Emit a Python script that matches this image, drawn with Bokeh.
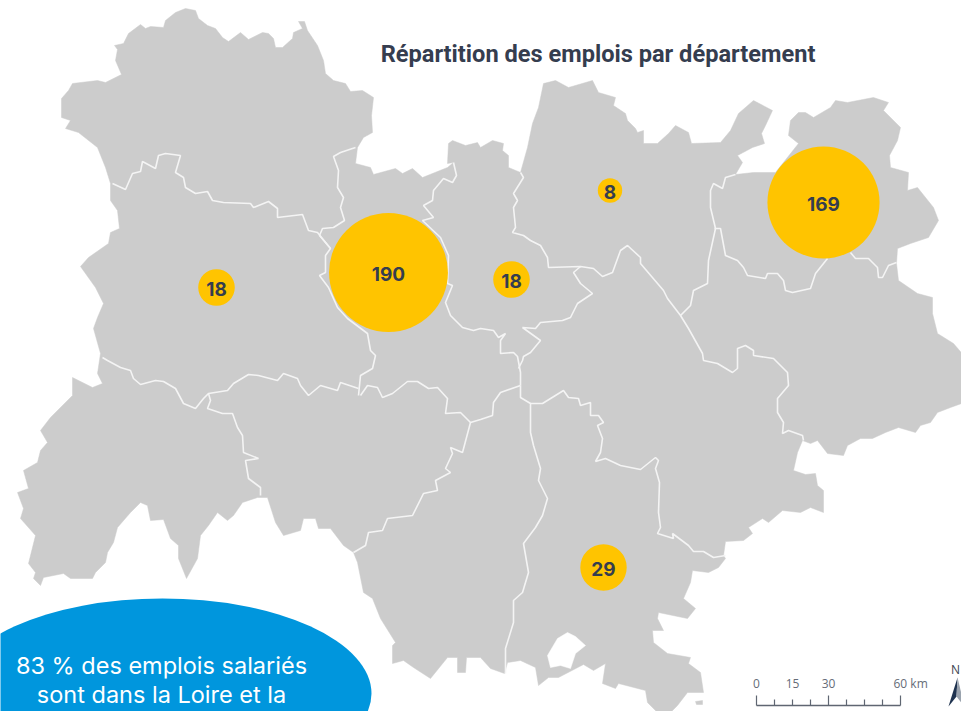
from bokeh.plotting import figure
from bokeh.embed import file_html
from bokeh.resources import INLINE
from bokeh.core.properties import value
from bokeh.models import ColumnDataSource, Range1d
import math

# Map coordinates (image-space units of the reference map)
region_outline = [(61,98),(68,90),(72,83),(97,80),(105,82),(121,74),(115,60),(117,49),(114,45),(123,43),(128,33),(140,24),(145,28),(150,26),(163,27),(165,20),(175,12),(185,8),(195,10),(198,18),(207,25),(215,28),(222,37),(228,41),(240,32),(248,39),(262,32),(268,33),(273,38),(275,47),(282,47),(292,38),(293,32),(302,28),(298,21),(304,21),(307,30),(317,45),(323,60),(325,73),(333,80),(345,83),(350,91),(362,90),(373,97),(371,115),(372,132),(363,137),(357,147),(355,163),(370,167),(373,174),(395,168),(402,173),(412,168),(422,177),(447,167),(453,162),(447,163),(448,143),(452,140),(465,145),(477,142),(480,147),(492,140),(503,143),(502,150),(508,155),(508,167),(520,172),(527,147),(532,123),(538,107),(543,83),(555,80),(568,87),(592,80),(598,92),(615,97),(613,105),(625,113),(627,120),(635,128),(637,132),(643,130),(643,143),(657,143),(668,133),(675,125),(688,132),(691,143),(720,142),(730,130),(738,113),(753,100),(772,110),(765,125),(761,133),(764,143),(752,147),(737,155),(742,162),(735,174),(753,172),(775,172),(798,143),(788,135),(790,120),(798,112),(805,112),(813,117),(830,107),(835,100),(847,102),(873,97),(888,102),(883,110),(900,127),(897,140),(889,155),(890,167),(908,172),(907,190),(917,187),(933,207),(938,220),(928,237),(910,243),(897,248),(896,263),(898,280),(917,293),(932,297),(932,313),(937,333),(953,343),(965,357),(965,401),(961,403),(950,407),(937,412),(930,422),(920,425),(915,432),(898,427),(885,432),(872,438),(860,438),(847,445),(843,455),(827,453),(817,440),(810,443),(802,440),(797,452),(793,470),(805,474),(815,473),(817,485),(823,490),(823,512),(810,507),(800,512),(782,510),(768,522),(762,518),(748,527),(752,533),(743,540),(725,541),(723,555),(725,558),(718,567),(708,572),(692,570),(690,582),(683,598),(695,608),(687,618),(658,612),(657,618),(663,630),(652,630),(653,642),(667,653),(690,657),(688,663),(700,672),(703,692),(687,692),(677,705),(667,715),(660,715),(647,702),(645,690),(618,683),(615,688),(602,683),(605,663),(593,670),(583,664),(558,677),(548,677),(538,685),(535,667),(520,660),(507,662),(504,673),(490,668),(480,657),(466,657),(465,672),(457,672),(457,657),(447,657),(430,678),(413,667),(403,660),(392,663),(392,645),(395,642),(380,618),(372,598),(363,592),(357,562),(353,552),(343,545),(330,528),(318,528),(315,518),(303,518),(300,530),(283,535),(275,522),(267,497),(257,497),(242,502),(233,515),(227,520),(217,512),(208,525),(200,535),(197,558),(186,578),(178,558),(178,545),(170,538),(163,519),(150,520),(147,505),(140,502),(130,512),(117,527),(113,542),(107,552),(105,562),(95,572),(92,578),(70,578),(63,573),(43,577),(40,585),(33,578),(35,572),(28,563),(35,535),(20,518),(23,508),(17,492),(28,488),(23,470),(37,462),(40,450),(47,442),(40,430),(50,417),(72,395),(72,377),(92,387),(102,383),(97,373),(100,353),(93,328),(97,317),(103,303),(95,287),(80,266),(88,257),(108,243),(110,232),(119,228),(117,210),(110,200),(110,183),(105,167),(97,147),(78,132),(65,128),(70,120),(61,117)]

enclave_outline = [(567,632),(575,636),(585,645),(575,653),(570,668),(560,665),(550,667),(547,655),(557,638)]
islet_outline = [(695,701),(702,700),(702,704),(696,704)]

border_allier_puy = [(112,183),(125,189),(132,173),(140,171),(142,161),(155,168),(158,155),(165,153),(180,155),(175,172),(183,177),(185,187),(195,193),(207,191),(212,200),(223,202),(250,203),(253,207),(268,201),(277,208),(277,217),(302,214),(308,230),(317,232),(330,248),(325,255),(325,272),(319,275),(328,287),(337,307),(347,318),(367,333),(370,350),(375,355),(372,368),(360,375),(358,395)]
border_allier_loire = [(355,147),(340,152),(333,156),(338,170),(337,187),(343,197),(340,207),(344,220),(333,227),(322,228),(319,235),(330,248)]
border_loire_rhone = [(453,162),(456,175),(452,182),(443,178),(433,190),(432,200),(423,205),(433,217),(422,220),(440,237),(448,255),(447,283),(452,285),(445,302),(450,315),(462,327),(473,330),(480,328),(493,330),(498,337),(505,333),(500,340),(500,353),(513,352),(517,356),(520,372),(520,385)]
border_loire_hloire = [(520,385),(500,392),(493,402),(492,415),(480,419),(470,422),(460,412),(445,413),(447,398),(437,387),(428,388),(417,381),(407,381),(392,393),(382,397),(377,387),(367,385),(360,395)]
border_puy_south = [(358,388),(340,382),(337,390),(320,385),(308,395),(300,385),(297,378),(283,373),(277,380),(258,375),(248,374),(233,383),(227,390),(208,393),(203,398),(195,408),(183,403),(175,388),(163,381),(155,380),(140,384),(133,378),(130,370),(120,367),(107,360),(102,357)]
border_cantal_hloire = [(208,393),(210,400),(207,408),(222,413),(232,413),(237,427),(242,435),(243,452),(258,458),(245,460),(248,478),(260,487),(260,495)]
border_hloire_ardeche = [(470,422),(462,452),(450,447),(452,453),(445,468),(450,472),(435,480),(437,490),(423,493),(412,515),(387,518),(382,530),(368,532),(365,545),(353,552)]
border_ardeche_west = [(520,385),(520,397),(530,403),(530,432),(533,445),(540,468),(538,480),(547,498),(542,515),(535,527),(523,543),(528,572),(522,592),(513,600),(513,622),(505,648),(505,673)]
border_ardeche_drome = [(530,403),(542,403),(563,390),(568,397),(578,398),(580,405),(590,402),(590,415),(598,415),(603,422),(597,425),(602,438),(600,452),(595,461),(605,458),(620,465),(640,469),(655,457),(658,460),(655,468),(659,482),(658,512),(660,527),(657,533),(673,538),(672,533),(688,545),(693,551),(703,551),(713,557),(725,555)]
border_ain_south = [(520,172),(523,177),(513,193),(517,200),(513,207),(515,227),(512,232),(523,235),(530,240),(540,245),(547,257),(548,267),(580,266),(593,268),(602,276),(612,272),(620,250),(627,245),(640,257),(640,263),(663,290),(667,298),(680,315),(688,328),(702,353),(703,360),(717,363),(732,372),(737,368),(737,348),(745,345),(753,350),(753,355),(773,358),(787,372),(788,385),(777,398),(777,412),(783,422),(782,433),(788,430),(802,435),(803,440)]
border_rhone_isere = [(580,266),(573,272),(580,283),(592,293),(577,303),(570,317),(562,320),(540,322),(535,328),(522,327),(540,340),(530,352),(523,356),(522,360),(518,368)]
border_ain_savoie = [(680,315),(690,305),(693,290),(707,283),(708,260),(715,228),(710,207),(710,190),(713,183),(722,188),(725,177),(735,174)]
border_savoie_isere = [(714,228),(720,228),(725,255),(737,260),(743,267),(747,275),(765,278),(767,273),(777,273),(783,280),(785,290),(792,292),(810,288),(815,273),(827,258)]
border_hsavoie = [(850,252),(855,258),(868,258),(877,267),(878,277),(882,277),(888,265),(896,262)]
borders = [border_allier_puy, border_allier_loire, border_loire_rhone, border_loire_hloire, border_puy_south,
           border_cantal_hloire, border_hloire_ardeche, border_ardeche_west, border_ardeche_drome, border_ain_south,
           border_rhone_isere, border_ain_savoie, border_savoie_isere, border_hsavoie]

# Bubbles
bubble_values = [190, 169, 18, 18, 8, 29]
bubble_x = [388, 823, 216, 511, 609.5, 603]
bubble_y = [272, 202, 287, 279, 190, 567]
AREA_PER_JOB = 18.6

# Scale bar
scale_ticks_km = [0, 7.5, 15, 22.5, 30, 37.5, 45, 52.5, 60]
scale_labels = ["0", "15", "30", "60 km"]
scale_label_km = [0, 15, 30, 60]

title_text = "Répartition des emplois par département"
note_lines = ["83 % des emplois salariés", "sont dans la Loire et la"]

GRAY, YELLOW, BLUE, INK = "#cccccc", "#ffc400", "#0096dd", "#353d4f"

p = figure(width=961, height=711, output_backend="svg", toolbar_location=None,
           x_range=Range1d(0, 961), y_range=Range1d(711, 0), min_border=0,
           outline_line_color=None, background_fill_color="white")
p.axis.visible = False
p.grid.visible = False
p.xaxis.visible = False
p.yaxis.visible = False

def xs(a): return [q[0] for q in a]
def ys(a): return [q[1] for q in a]

p.patch(xs(region_outline), ys(region_outline), fill_color=GRAY, line_color=GRAY, line_width=0.5)
p.patch(xs(enclave_outline), ys(enclave_outline), fill_color="white", line_color="white", line_width=0.5)
p.patch(xs(islet_outline), ys(islet_outline), fill_color=GRAY, line_color=GRAY, line_width=0.5)
p.multi_line([xs(b) for b in borders], [ys(b) for b in borders], line_color="#f4f4f4", line_width=1.6)

src = ColumnDataSource(dict(x=bubble_x, y=bubble_y, r=[math.sqrt(v * AREA_PER_JOB) for v in bubble_values],
                            t=[str(v) for v in bubble_values]))
p.circle("x", "y", radius="r", source=src, fill_color=YELLOW, line_color=None)
p.text("x", "y", text="t", source=src, text_align="center", text_baseline="middle", text_color=INK,
       text_font=value("Inter"), text_font_style="bold", text_font_size="19px", y_offset=1)

p.text([597.5], [53], text=[title_text], text_align="center", text_baseline="middle", text_color=INK,
       text_font=value("Roboto"), text_font_style="bold", text_font_size="23.6px")

p.ellipse([162], [693], width=[418], height=[190], fill_color=BLUE, line_color=None)
p.text([161, 161], [665, 694], text=note_lines, text_align="center", text_baseline="middle", text_color="white",
       text_font=value("Inter"), text_font_size="23.5px")

# Scale bar: 60 km spans 144 map units
KM = 144 / 60
X0, BASE = 756, 705
p.segment([X0], [BASE], [X0 + 60 * KM], [BASE], line_color="#5f6672", line_width=1.3)
tx = [X0 + k * KM for k in scale_ticks_km]
p.segment(tx, [695 if k % 30 == 0 else 699 for k in scale_ticks_km], tx, [BASE] * len(tx), line_color="#5f6672", line_width=1.2)
p.text([X0 + k * KM for k in scale_label_km[:3]], [683] * 3, text=scale_labels[:3], text_align="center", text_baseline="middle",
       text_color="#666c78", text_font=value("Open Sans"), text_font_size="12px")
p.text([893], [683], text=[scale_labels[3]], text_align="left", text_baseline="middle",
       text_color="#666c78", text_font=value("Open Sans"), text_font_size="12px")

# North arrow
p.patch([957, 948, 956], [677, 706, 696], fill_color="#1f3350", line_color=None)
p.patch([957, 956, 964], [677, 696, 706], fill_color="#9aa3ae", line_color=None)
p.text([955], [669], text=["N"], text_align="center", text_baseline="middle", text_color="#3c4450",
       text_font=value("Open Sans"), text_font_size="12px")

open("out.html", "w").write(file_html(p, INLINE))
